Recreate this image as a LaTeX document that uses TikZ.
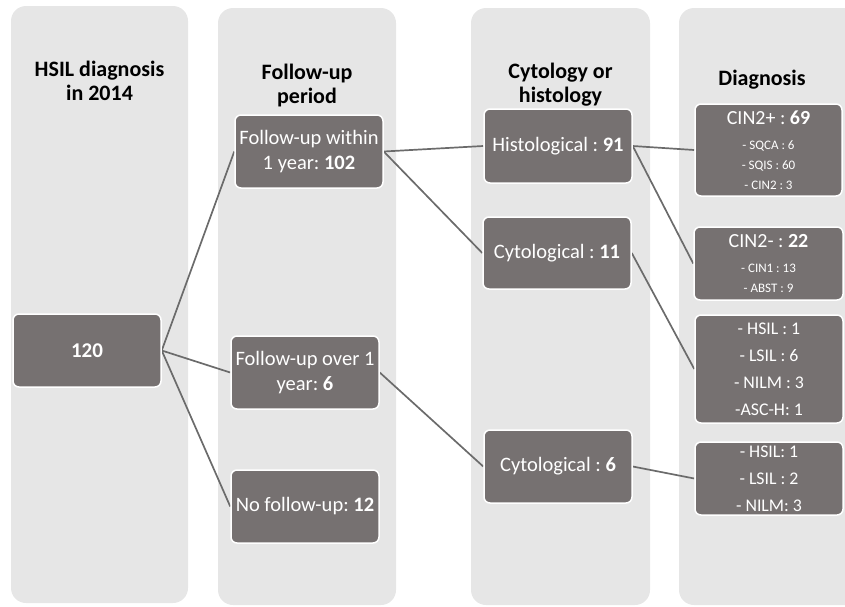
\documentclass[tikz,border=0pt]{standalone}
\usepackage{fontspec}
\setmainfont{Carlito}
\definecolor{colgray}{HTML}{E6E6E6}
\definecolor{boxgray}{HTML}{767171}
\definecolor{linegray}{HTML}{6B6B6B}
\pgfdeclarelayer{bgcols}
\pgfdeclarelayer{bglines}
\pgfsetlayers{bgcols,bglines,main}
\frenchspacing
\tikzset{
  colbg/.style={fill=colgray, rounded corners=15pt},
  header/.style={font=\fontsize{22}{24}\selectfont\bfseries, align=center, text=black, inner sep=0pt},
  dbox/.style={fill=boxgray, draw=white, line width=1.5pt, rounded corners=6pt, text=white,
    align=center, inner sep=0pt, font=\fontsize{20.5}{25}\selectfont},
  link/.style={draw=linegray, line width=1.7pt},
}
\begin{document}
\frenchspacing
\begin{tikzpicture}[x=1pt,y=-1pt]
\useasboundingbox (0,0) rectangle (845,606);
% columns
\begin{pgfonlayer}{bgcols}
\clip (0,0) rectangle (845,606);
\fill[colbg] (11,6) rectangle (188,603);
\fill[colbg] (218,8) rectangle (396,605);
\fill[colbg] (471,8) rectangle (650,605);
\fill[colbg] (679,8) rectangle (870,605);
\end{pgfonlayer}
% headers
\node[header] (h1) at (99.5,81) {HSIL diagnosis\\in 2014};
\node[header] (h2) at (307,86) {Follow-up\\period};
\node[header] (h3) at (560.5,85) {Cytology or\\histology};
\node[header] (h4) at (762,80) {Diagnosis};
% boxes
\node[dbox, minimum width=148pt, minimum height=73pt, font=\fontsize{21}{25}\selectfont\bfseries] (n120) at (87,350.5) {120};
\node[dbox, minimum width=148pt, minimum height=73pt] (fu1) at (309,151.5) {Follow-up within\\1 year: \textbf{102}};
\node[dbox, minimum width=148pt, minimum height=73pt] (fu2) at (305,372.5) {Follow-up over 1\\year: \textbf{6}};
\node[dbox, minimum width=148pt, minimum height=73pt] (fu3) at (305,506.5) {No follow-up: \textbf{12}};
\node[dbox, minimum width=148pt, minimum height=74pt] (hist) at (558,146) {Histological : \textbf{91}};
\node[dbox, minimum width=148pt, minimum height=72pt] (cyt11) at (557,253) {Cytological : \textbf{11}};
\node[dbox, minimum width=148pt, minimum height=73pt] (cyt6) at (558,466.5) {Cytological : \textbf{6}};
\node[dbox, minimum width=147pt, minimum height=92pt, font=\fontsize{13}{20}\selectfont] (d1) at (768.5,150)
  {{\fontsize{20}{25}\selectfont CIN2+ : \textbf{69}}\\[5pt]- SQCA : 6\\- SQIS : 60\\- CIN2 : 3};
\node[dbox, minimum width=149pt, minimum height=73pt, font=\fontsize{13}{20}\selectfont] (d2) at (768.5,263.5)
  {{\fontsize{20}{25}\selectfont CIN2- : \textbf{22}}\\[5pt]- CIN1 : 13\\- ABST : 9};
\node[dbox, minimum width=148pt, minimum height=108pt, font=\fontsize{17.8}{27}\selectfont] (d3) at (769,369)
  {- HSIL : 1\\- LSIL : 6\\- NILM : 3\\-ASC-H: 1};
\node[dbox, minimum width=148pt, minimum height=73pt, font=\fontsize{17.8}{27}\selectfont] (d4) at (769,478.5)
  {- HSIL: 1\\- LSIL : 2\\- NILM: 3};
% connectors
\begin{pgfonlayer}{bglines}
\draw[link] (n120.east) -- (fu1.west);
\draw[link] (n120.east) -- (fu2.west);
\draw[link] (n120.east) -- (fu3.west);
\draw[link] (fu1.east) -- (hist.west);
\draw[link] (fu1.east) -- (cyt11.west);
\draw[link] (fu2.east) -- (cyt6.west);
\draw[link] (hist.east) -- (d1.west);
\draw[link] (hist.east) -- (d2.west);
\draw[link] (cyt11.east) -- (d3.west);
\draw[link] (cyt6.east) -- (d4.west);
\end{pgfonlayer}
\end{tikzpicture}
\end{document}
